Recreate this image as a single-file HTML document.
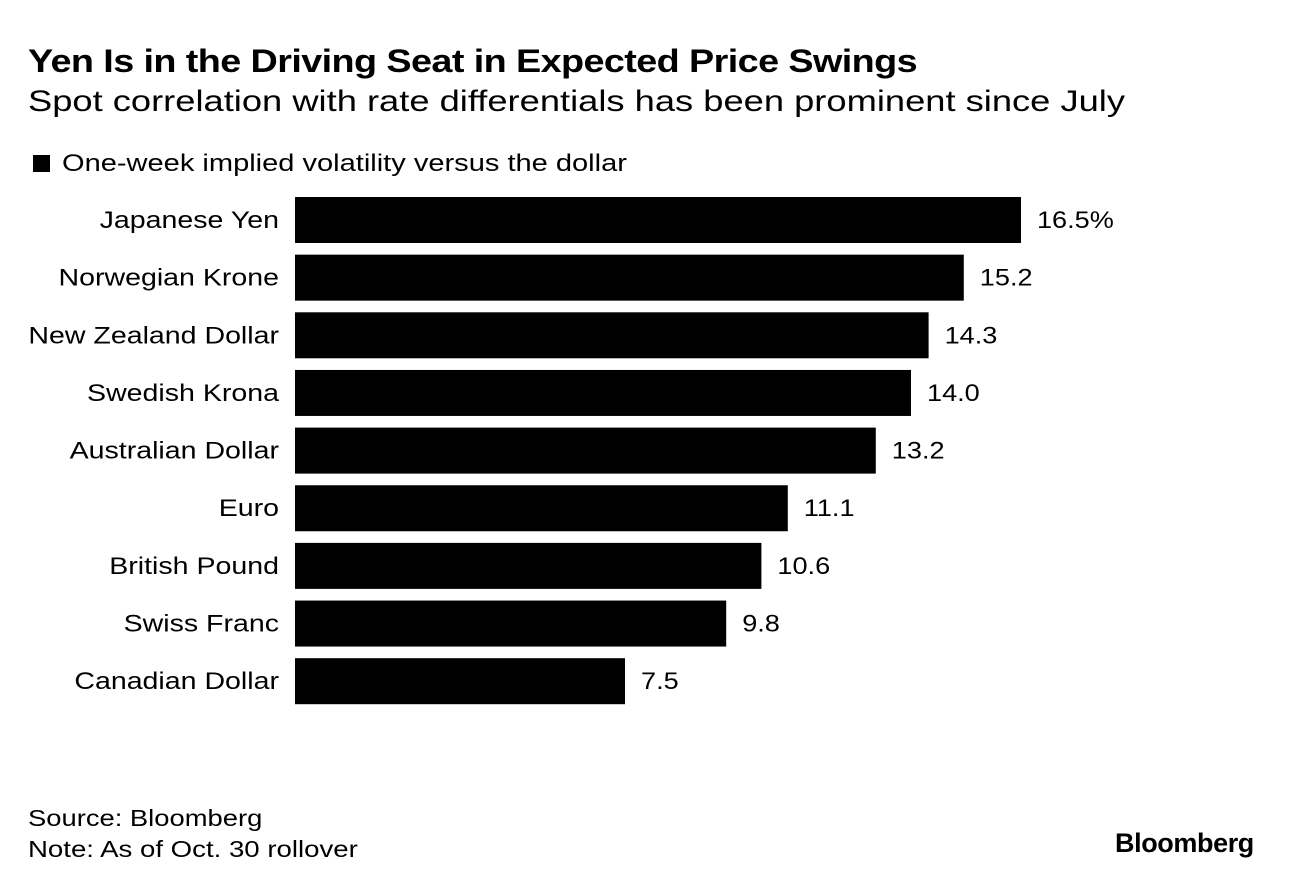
<!DOCTYPE html>
<html><head><meta charset="utf-8"><style>
body{margin:0;background:#fff;width:1296px;height:888px;overflow:hidden;font-family:"Liberation Sans",sans-serif;color:#000;position:relative}
.t{position:absolute;white-space:nowrap;transform-origin:0 0}
</style></head><body>
<div class="t" style="left:28px;top:43px;font-size:32px;font-weight:bold;letter-spacing:-0.5px;transform:scaleX(1.18)">Yen Is in the Driving Seat in Expected Price Swings</div>
<div class="t" style="left:28px;top:85px;font-size:30px;transform:scaleX(1.21)">Spot correlation with rate differentials has been prominent since July</div>
<div class="t" style="left:33px;top:150px;font-size:24px"><span style="display:inline-block;width:17px;height:17px;background:#000;margin-right:12px;vertical-align:-1px"></span><span style="display:inline-block;transform:scaleX(1.21);transform-origin:0 0">One-week implied volatility versus the dollar</span></div>
<svg id="chart" width="1296" height="888" style="position:absolute;left:0;top:0"></svg>
<div class="t" style="left:28px;top:805px;font-size:23px;transform:scaleX(1.19)">Source: Bloomberg</div>
<div class="t" style="left:28px;top:836px;font-size:23px;transform:scaleX(1.2)">Note: As of Oct. 30 rollover</div>
<div class="t" style="left:1115px;top:828px;font-size:27px;font-weight:bold;letter-spacing:-0.4px">Bloomberg</div>
<script>
const categories=["Japanese Yen","Norwegian Krone","New Zealand Dollar","Swedish Krona","Australian Dollar","Euro","British Pound","Swiss Franc","Canadian Dollar"];
const values=[16.5,15.2,14.4,14.0,13.2,11.2,10.6,9.8,7.5];
const labels=["16.5%","15.2","14.3","14.0","13.2","11.1","10.6","9.8","7.5"];
const svg=document.getElementById('chart');
const NS="http://www.w3.org/2000/svg";
const x0=295,k=44,y0=197,pitch=57.65,bh=46;
const xs=v=>x0+v*k, ys=i=>y0+i*pitch;
const sc=1.19, sv=1.13;
categories.forEach((c,i)=>{
 const r=document.createElementNS(NS,'rect');
 r.setAttribute('x',x0);r.setAttribute('y',ys(i));r.setAttribute('width',xs(values[i])-x0);r.setAttribute('height',bh);r.setAttribute('fill','#000');
 
 
 svg.appendChild(r);
 const t=document.createElementNS(NS,'text');
 t.setAttribute('x',279/sc);t.setAttribute('y',ys(i)+bh/2+8);t.setAttribute('text-anchor','end');t.setAttribute('font-size','24');t.setAttribute('font-family','Liberation Sans, sans-serif');
 t.setAttribute('transform','scale('+sc+',1)');
 t.textContent=c;
 
 
 svg.appendChild(t);
 const v=document.createElementNS(NS,'text');
 v.setAttribute('x',(xs(values[i])+16)/sv);v.setAttribute('y',ys(i)+bh/2+8);v.setAttribute('font-size','24');v.setAttribute('font-family','Liberation Sans, sans-serif');
 v.setAttribute('transform','scale('+sv+',1)');
 v.textContent=labels[i];
 
 
 svg.appendChild(v);
});
</script>
</body></html>
